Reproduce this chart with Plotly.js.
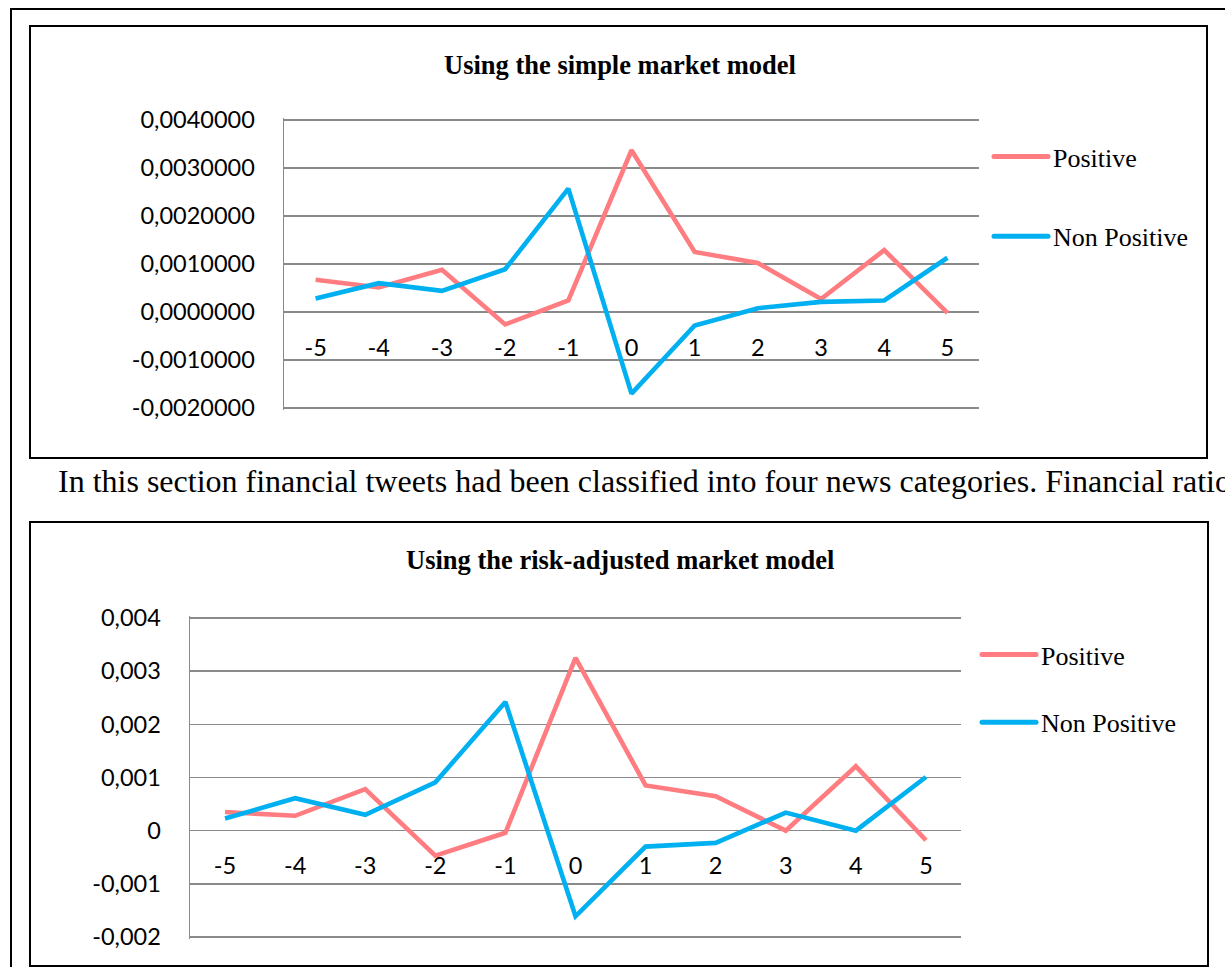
<!DOCTYPE html>
<html><head><meta charset="utf-8">
<script src="https://cdn.plot.ly/plotly-3.0.1.min.js"></script>
<style>html,body{margin:0;padding:0;background:#fff;overflow:hidden}#chart{width:1225px;height:967px}</style>
</head><body><div id="chart"></div>
<script>
const categories = ['-5','-4','-3','-2','-1','0','1','2','3','4','5'];
const seriesNames = ['Positive', 'Non Positive'];
const simplePositive    = [0.00067, 0.00051, 0.00088, -0.00026, 0.00024, 0.00337, 0.00125, 0.00102, 0.00027, 0.00129, -0.00002];
const simpleNonPositive = [0.00028, 0.00060, 0.00044, 0.00089, 0.00257, -0.00170, -0.00028, 0.00008, 0.00021, 0.00024, 0.00113];
const riskPositive      = [0.00035, 0.00028, 0.00078, -0.00047, -0.00004, 0.00325, 0.00085, 0.00065, 0.00000, 0.00121, -0.00018];
const riskNonPositive   = [0.00023, 0.00061, 0.00030, 0.00091, 0.00242, -0.00161, -0.00030, -0.00023, 0.00034, 0.00000, 0.00101];
const yTickVals = [-0.002, -0.001, 0, 0.001, 0.002, 0.003, 0.004];
const simpleTickText = ['-0,0020000', '-0,0010000', '0,0000000', '0,0010000', '0,0020000', '0,0030000', '0,0040000'];
const riskTickText = ['-0,002', '-0,001', '0', '0,001', '0,002', '0,003', '0,004'];
const chartTitles = ['Using the simple market model', 'Using the risk-adjusted market model'];
const paragraphText = 'In this section financial tweets had been classified into four news categories. Financial ratio';

const W = 1225, H = 967;
const px = v => v / W;
const py = v => 1 - v / H;
const colors = ['#FF7C80', '#00B0F0'];
const gridColor = '#8a8a8a';
const tickFont = {family: 'Lato, "Open Sans", sans-serif', size: 23.5, color: '#000'};
const serif = '"Liberation Serif", "Times New Roman", serif';
const yMin = -0.002, yMax = 0.004;
const padPx = 2; // small margin so the end gridlines are kept by Plotly
const legendLineLen = 54;

function plotBox(left, right, topPx, bottomPx) {
  const perPx = (yMax - yMin) / (bottomPx - topPx);
  const range = [yMin - padPx * perPx, yMax + padPx * perPx];
  const domY = [py(bottomPx + padPx), py(topPx - padPx)];
  const zero = domY[0] + (0 - range[0]) / (range[1] - range[0]) * (domY[1] - domY[0]);
  return {domX: [px(left), px(right)], domY: domY, range: range, zero: zero};
}
const box1 = plotBox(284, 979, 120, 408);
const box2 = plotBox(190, 961, 618, 937);

function xAxis(b) {
  return {domain: b.domX, anchor: 'free', position: b.zero, type: 'category',
    range: [-0.5, categories.length - 0.5], showgrid: false, zeroline: false, showline: false,
    ticks: '', tickfont: tickFont, ticklabelstandoff: 19, fixedrange: true};
}
function yAxis(b, xname, text) {
  return {domain: b.domY, anchor: xname, range: b.range, tickmode: 'array', tickvals: yTickVals, ticktext: text,
    showgrid: true, gridcolor: gridColor, gridwidth: 1.5, zeroline: false,
    showline: true, linecolor: gridColor, linewidth: 1.5, ticks: '', tickfont: tickFont,
    ticklabelstandoff: 23, fixedrange: true};
}

const traces = [
  {x: categories, y: simplePositive, name: seriesNames[0], xaxis: 'x', yaxis: 'y', legend: 'legend', legendgroup: 'a'},
  {x: categories, y: simpleNonPositive, name: seriesNames[1], xaxis: 'x', yaxis: 'y', legend: 'legend', legendgroup: 'b'},
  {x: categories, y: riskPositive, name: seriesNames[0], xaxis: 'x2', yaxis: 'y2', legend: 'legend2', legendgroup: 'c'},
  {x: categories, y: riskNonPositive, name: seriesNames[1], xaxis: 'x2', yaxis: 'y2', legend: 'legend2', legendgroup: 'd'}
].map((t, i) => Object.assign({type: 'scatter', mode: 'lines', line: {color: colors[i % 2], width: 4.6}, hoverinfo: 'skip'}, t));

const frame = {type: 'rect', xref: 'paper', yref: 'paper', line: {color: '#000', width: 2}, fillcolor: 'rgba(0,0,0,0)'};
const shapes = [
  Object.assign({x0: px(11), x1: px(1260), y0: py(9), y1: py(1000)}, frame),
  Object.assign({x0: px(30), x1: px(1207), y0: py(26), y1: py(458)}, frame),
  Object.assign({x0: px(30), x1: px(1208), y0: py(522), y1: py(966)}, frame)
];

const annotations = [
  {text: '<b>' + chartTitles[0] + '</b>', x: px(620), y: py(65), xref: 'paper', yref: 'paper', showarrow: false,
   xanchor: 'center', yanchor: 'middle', font: {family: serif, size: 26.5, color: '#000'}},
  {text: '<b>' + chartTitles[1] + '</b>', x: px(620), y: py(560), xref: 'paper', yref: 'paper', showarrow: false,
   xanchor: 'center', yanchor: 'middle', font: {family: serif, size: 26.5, color: '#000'}},
  {text: paragraphText, x: px(56), y: py(481), xref: 'paper', yref: 'paper', showarrow: false,
   xanchor: 'left', yanchor: 'middle', font: {family: serif, size: 32, color: '#000'}}
];

const legendBase = {xanchor: 'left', yanchor: 'top', bgcolor: 'rgba(0,0,0,0)', borderwidth: 0,
  font: {family: serif, size: 26, color: '#000'}, itemwidth: legendLineLen};

const layout = {
  width: W, height: H, margin: {l: 0, r: 0, t: 0, b: 0},
  paper_bgcolor: '#fff', plot_bgcolor: 'rgba(0,0,0,0)', showlegend: true,
  xaxis: xAxis(box1), yaxis: yAxis(box1, 'x', simpleTickText),
  xaxis2: xAxis(box2), yaxis2: yAxis(box2, 'x2', riskTickText),
  legend: Object.assign({x: px(989), y: py(133), tracegroupgap: 43}, legendBase),
  legend2: Object.assign({x: px(977), y: py(631), tracegroupgap: 31}, legendBase),
  shapes: shapes, annotations: annotations
};

// lengthen the legend line samples so they fill the item width, as in the reference
function stretchLegendLines() {
  document.querySelectorAll('#chart .legendlines path').forEach(p => {
    p.setAttribute('d', 'M5,0h' + legendLineLen);
    p.style.strokeLinecap = 'round';
    p.style.strokeWidth = '5px';
  });
}
const gd = document.getElementById('chart');
Plotly.newPlot(gd, traces, layout, {staticPlot: true, displayModeBar: false}).then(() => {
  stretchLegendLines();
  gd.on('plotly_afterplot', stretchLegendLines);
  setTimeout(stretchLegendLines, 50);
  setTimeout(stretchLegendLines, 300);
});
</script>
</body></html>
